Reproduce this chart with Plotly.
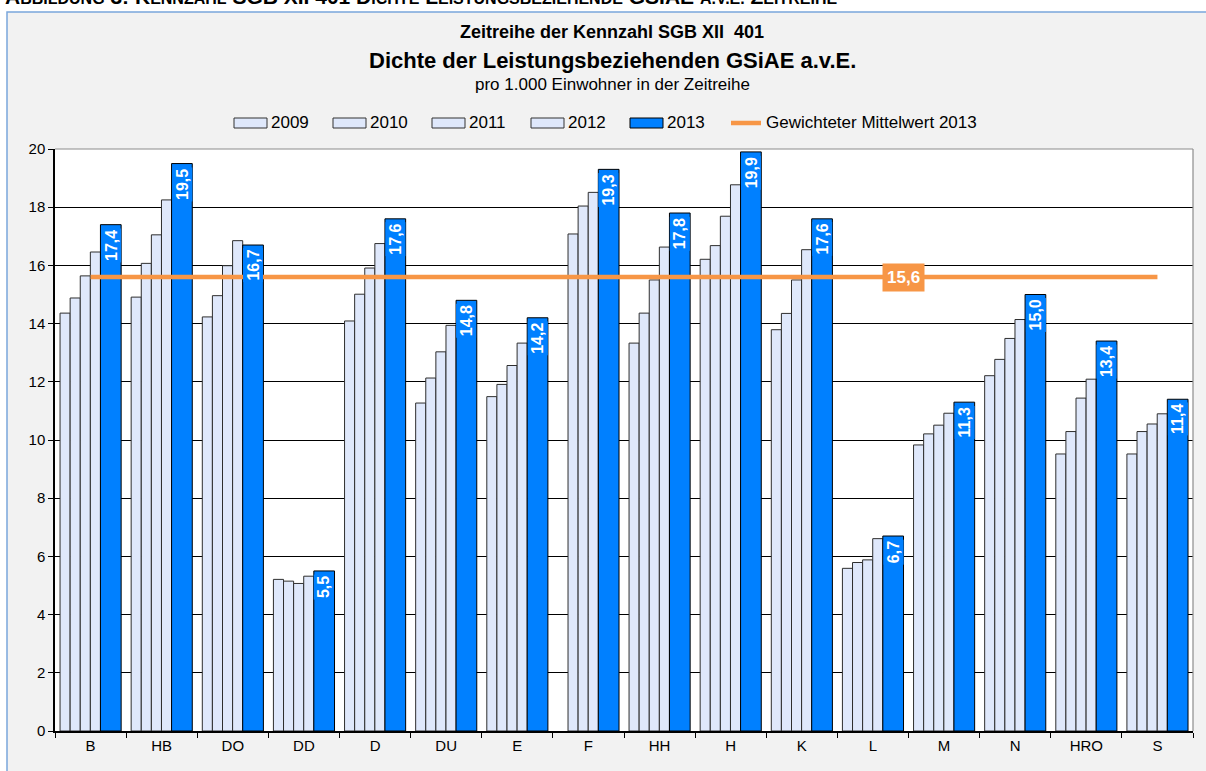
import plotly.graph_objects as go

categories = ["B", "HB", "DO", "DD", "D", "DU", "E", "F", "HH", "H", "K", "L", "M", "N", "HRO", "S"]
v2009 = [14.36, 14.91, 14.23, 5.21, 14.09, 11.27, 11.49, None, 13.33, 16.21, 13.79, 5.59, 9.83, 12.21, 9.52, 9.52]
v2010 = [14.88, 16.07, 14.96, 5.15, 15.01, 12.13, 11.91, 17.08, 14.36, 16.68, 14.35, 5.79, 10.21, 12.77, 10.29, 10.29]
v2011 = [15.64, 17.05, 15.99, 5.07, 15.91, 13.03, 12.56, 18.04, 15.50, 17.69, 15.50, 5.88, 10.51, 13.49, 11.44, 10.55]
v2012 = [16.46, 18.25, 16.85, 5.32, 16.75, 13.94, 13.33, 18.51, 16.63, 18.77, 16.54, 6.61, 10.92, 14.14, 12.09, 10.90]
v2013 = [17.4, 19.5, 16.7, 5.5, 17.6, 14.8, 14.2, 19.3, 17.8, 19.9, 17.6, 6.7, 11.3, 15.0, 13.4, 11.4]
mean2013 = 15.6
mean_label_category = "L"
legend_names = ["2009", "2010", "2011", "2012", "2013", "Gewichteter Mittelwert 2013"]

FONT = "Arial, Liberation Sans, sans-serif"
LIGHT = "#dfe8fb"
BLUE = "#0080ff"
ORANGE = "#f79646"

W, H = 1206, 771
ML, MR, MT, MB = 55, 13, 149, 40
PW, PH = W - ML - MR, H - MT - MB


def px_x(p):
    return (p - ML) / PW


def px_y(p):
    return (H - MB - p) / PH


fig = go.Figure()

light_w = 0.142
blue_w = 0.291
start = -0.429
series = [(legend_names[0], v2009), (legend_names[1], v2010), (legend_names[2], v2011), (legend_names[3], v2012)]
for k, (name, vals) in enumerate(series):
    fig.add_trace(go.Bar(
        x=categories, y=vals, name=name,
        width=light_w, offset=start + k * light_w,
        marker=dict(color=LIGHT, line=dict(color="#2e2e2e", width=1)),
    ))
fig.add_trace(go.Bar(
    x=categories, y=v2013, name=legend_names[4],
    width=blue_w, offset=start + 4 * light_w,
    marker=dict(color=BLUE, line=dict(color="#000000", width=1)),
))
fig.add_trace(go.Scatter(
    x=categories, y=[mean2013] * len(categories), mode="lines",
    name=legend_names[5],
    line=dict(color=ORANGE, width=4.5),
))


def de(v):
    return f"{v:.1f}".replace(".", ",")


blue_center = start + 4 * light_w + blue_w / 2
annotations = []
for i, v in enumerate(v2013):
    annotations.append(dict(
        x=i + blue_center, y=v, xref="x", yref="y",
        text=f"<b>{de(v)}</b>", showarrow=False, textangle=-90,
        xanchor="center", yanchor="top", yshift=-3,
        font=dict(family=FONT, size=16, color="white"),
        bgcolor=BLUE, borderpad=1,
    ))
annotations.append(dict(
    x=categories.index(mean_label_category), y=mean2013, xref="x", yref="y",
    text=f"<b>{de(mean2013)}</b>", showarrow=False,
    xanchor="left", yanchor="middle", xshift=9,
    font=dict(family=FONT, size=17, color="white"),
    bgcolor=ORANGE, borderpad=4,
))

# titles
for text, ypix, size in [
    ("<b>Zeitreihe der Kennzahl SGB XII  401</b>", 32, 18),
    ("<b>Dichte der Leistungsbeziehenden GSiAE a.v.E.</b>", 60, 22),
    ("pro 1.000 Einwohner in der Zeitreihe", 85, 17),
]:
    annotations.append(dict(x=px_x(612), y=px_y(ypix), xref="paper", yref="paper", text=text,
                            showarrow=False, xanchor="center", yanchor="middle",
                            font=dict(family=FONT, size=size, color="black")))

s = "font-size:16px"
caption = (f"<b>A<span style='{s}'>BBILDUNG</span> 3: K<span style='{s}'>ENNZAHL</span> SGB XII 401 "
           f"D<span style='{s}'>ICHTE</span> L<span style='{s}'>EISTUNGSBEZIEHENDE</span> GSIAE "
           f"<span style='{s}'>A.V.E.</span> Z<span style='{s}'>EITREIHE</span></b>")
annotations.append(dict(x=px_x(3), y=px_y(-4), xref="paper", yref="paper", text=caption,
                        showarrow=False, xanchor="left", yanchor="middle",
                        font=dict(family=FONT, size=21, color="black")))

shapes = [
    dict(type="rect", xref="paper", yref="paper", x0=px_x(7), x1=px_x(1215), y0=px_y(12), y1=px_y(780),
         fillcolor="#f2f2f2", line=dict(color="#7aa6dc", width=1.5), layer="below"),
    dict(type="rect", xref="paper", yref="paper", x0=0, x1=1, y0=0, y1=1,
         fillcolor="white", line=dict(width=0), layer="below"),
    dict(type="line", xref="paper", yref="paper", x0=0, x1=1, y0=1, y1=1,
         line=dict(color="#8c8c8c", width=1.2), layer="above"),
    dict(type="line", xref="paper", yref="paper", x0=1, x1=1, y0=0, y1=1,
         line=dict(color="#8c8c8c", width=1.2), layer="above"),
]

# custom legend (wide swatches like the original)
leg_y = 123
leg_x0 = 234
leg_step = 99
for k, name in enumerate(legend_names):
    x0 = leg_x0 + leg_step * k
    if k < 5:
        fill = BLUE if k == 4 else LIGHT
        edge = "#000000" if k == 4 else "#333333"
        shapes.append(dict(type="rect", xref="paper", yref="paper",
                           x0=px_x(x0), x1=px_x(x0 + 33), y0=px_y(leg_y - 5), y1=px_y(leg_y + 5),
                           fillcolor=fill, line=dict(color=edge, width=1), layer="above"))
    else:
        shapes.append(dict(type="line", xref="paper", yref="paper",
                           x0=px_x(x0 + 2), x1=px_x(x0 + 32), y0=px_y(leg_y), y1=px_y(leg_y),
                           line=dict(color=ORANGE, width=4.5), layer="above"))
    annotations.append(dict(x=px_x(x0 + 35), y=px_y(leg_y), xref="paper", yref="paper",
                            text=name, showarrow=False, xanchor="left", yanchor="middle",
                            font=dict(family=FONT, size=17, color="black")))

fig.update_layout(
    width=W, height=H,
    margin=dict(l=ML, r=MR, t=MT, b=MB),
    paper_bgcolor="white", plot_bgcolor="rgba(0,0,0,0)",
    barmode="overlay",
    font=dict(family=FONT, size=14, color="black"),
    showlegend=False,
    annotations=annotations,
    shapes=shapes,
    xaxis=dict(type="category", tickson="boundaries", ticks="outside", ticklen=5, tickcolor="black",
               showline=True, linecolor="black", linewidth=1.5, showgrid=False,
               tickfont=dict(family=FONT, size=15), range=[-0.5, 15.5], fixedrange=True),
    yaxis=dict(range=[0, 20], dtick=2, ticks="outside", ticklen=5, tickcolor="black",
               showline=True, linecolor="black", linewidth=1.5, showgrid=True,
               gridcolor="black", gridwidth=1, zeroline=False,
               tickfont=dict(family=FONT, size=15), fixedrange=True),
)

fig.write_html("out.html", config={"displayModeBar": False},
               post_script="document.body.style.margin='0';")
